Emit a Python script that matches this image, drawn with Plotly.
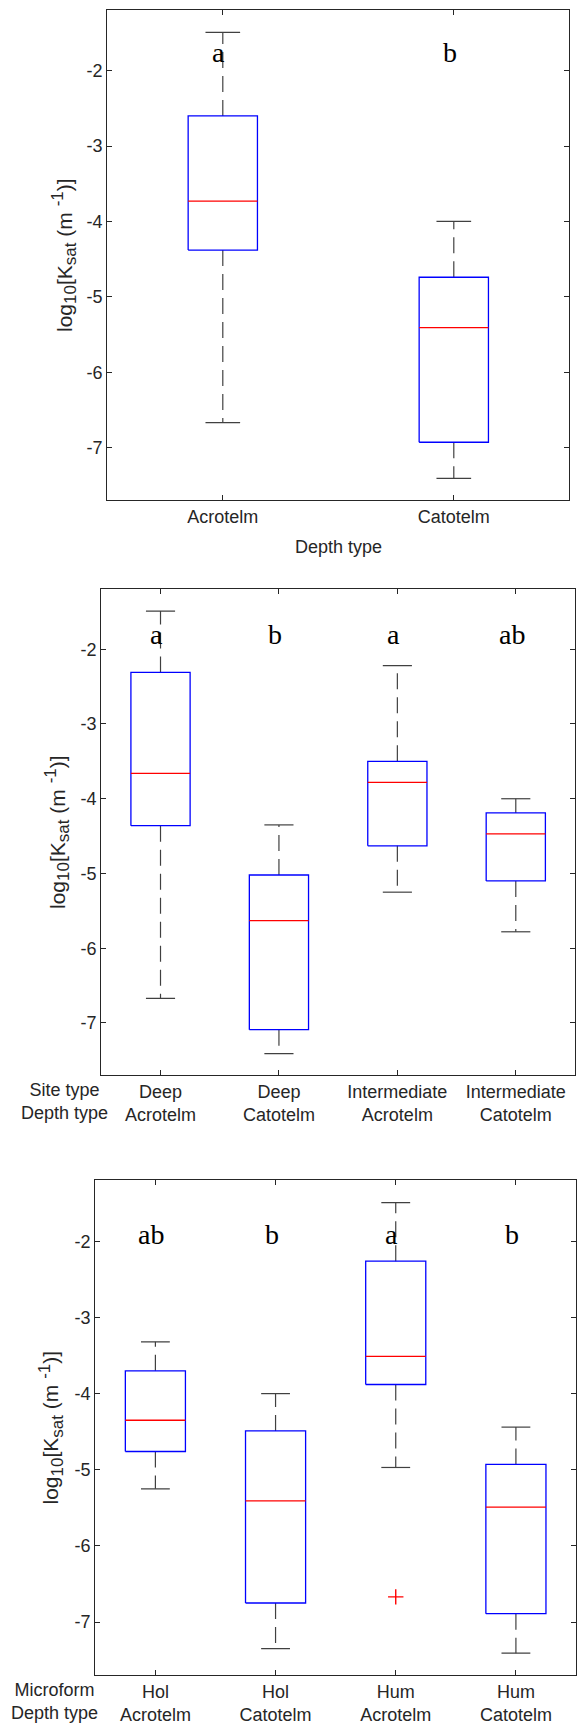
import plotly.graph_objects as go

FIG_W, FIG_H = 579, 1726

# ---- Panel 1: depth type ----
depth_labels = ["Acrotelm", "Catotelm"]
depth_upper = [-1.49, -4.00]
depth_q3 = [-2.60, -4.74]
depth_median = [-3.73, -5.41]
depth_q1 = [-4.38, -6.93]
depth_lower = [-6.67, -7.41]
depth_letters = ["a", "b"]

# ---- Panel 2: site type x depth type ----
site_labels = ["Deep<br>Acrotelm", "Deep<br>Catotelm",
               "Intermediate<br>Acrotelm", "Intermediate<br>Catotelm"]
site_upper = [-1.49, -4.35, -2.22, -4.00]
site_q3 = [-2.31, -5.02, -3.50, -4.19]
site_median = [-3.66, -5.63, -3.78, -4.47]
site_q1 = [-4.36, -7.09, -4.63, -5.10]
site_lower = [-6.67, -7.41, -5.25, -5.78]
site_letters = ["a", "b", "a", "ab"]

# ---- Panel 3: microform x depth type ----
micro_labels = ["Hol<br>Acrotelm", "Hol<br>Catotelm",
                "Hum<br>Acrotelm", "Hum<br>Catotelm"]
micro_upper = [-3.32, -4.00, -1.49, -4.44]
micro_q3 = [-3.70, -4.49, -2.26, -4.93]
micro_median = [-4.35, -5.41, -3.51, -5.49]
micro_q1 = [-4.76, -6.75, -3.88, -6.89]
micro_lower = [-5.25, -7.35, -4.97, -7.41]
micro_outlier_group = [3]
micro_outlier_value = [-6.67]
micro_letters = ["ab", "b", "a", "b"]

y_tick_vals = [-7, -6, -5, -4, -3, -2]
y_tick_text = ["-7", "-6", "-5", "-4", "-3", "-2"]

AX = "#262626"
BOX = "#0000ff"
MED = "#ff0000"
WHISK = "#404040"
SANS = "Liberation Sans, Arial, sans-serif"
SERIF = "Liberation Serif, Times New Roman, serif"
FS = 18
Y_RANGE = [-7.70, -1.19]

SUB = '<span style="font-size:17px">'
YTITLE = (f"log<sub>{SUB}10</span></sub>[K<sub>{SUB}sat</span></sub> "
          f"(m <sup>{SUB}-1</span></sup>)]")

# pixel frames of each panel: left, right, top, bottom
panels = [
    dict(labels=depth_labels, upper=depth_upper, q3=depth_q3, med=depth_median,
         q1=depth_q1, lower=depth_lower, letters=depth_letters,
         frame=(107.3, 569.3, 9.7, 500.3), half_box=0.15, half_cap=0.075,
         letter_y=-1.90, ytitle_x=64, row_title=None, xtitle="Depth type"),
    dict(labels=site_labels, upper=site_upper, q3=site_q3, med=site_median,
         q1=site_q1, lower=site_lower, letters=site_letters,
         frame=(101.3, 575.0, 588.7, 1075.3), half_box=0.25, half_cap=0.123,
         letter_y=-1.94, ytitle_x=57, row_title="Site type<br>Depth type",
         row_x=64.7, xtitle=None),
    dict(labels=micro_labels, upper=micro_upper, q3=micro_q3, med=micro_median,
         q1=micro_q1, lower=micro_lower, letters=micro_letters,
         frame=(95.3, 576.0, 1179.7, 1675.3), half_box=0.25, half_cap=0.12,
         letter_y=-2.045, ytitle_x=50, row_title="Microform<br>Depth type",
         row_x=54.6, xtitle=None,
         out_x=micro_outlier_group, out_y=micro_outlier_value),
]

fig = go.Figure()
annotations = []

for i, p in enumerate(panels, start=1):
    xa = "x" if i == 1 else f"x{i}"
    ya = "y" if i == 1 else f"y{i}"
    n = len(p["labels"])
    pos = list(range(1, n + 1))
    hb, hc = p["half_box"], p["half_cap"]

    wx, wy, cx, cy, bx, by, mx, my = [], [], [], [], [], [], [], []
    for k, xc in enumerate(pos):
        # whiskers
        wx += [xc, xc, None, xc, xc, None]
        wy += [p["q3"][k], p["upper"][k], None, p["q1"][k], p["lower"][k], None]
        # whisker caps
        cx += [xc - hc, xc + hc, None, xc - hc, xc + hc, None]
        cy += [p["upper"][k], p["upper"][k], None, p["lower"][k], p["lower"][k], None]
        # box
        bx += [xc - hb, xc + hb, xc + hb, xc - hb, xc - hb, None]
        by += [p["q1"][k], p["q1"][k], p["q3"][k], p["q3"][k], p["q1"][k], None]
        # median
        mx += [xc - hb, xc + hb, None]
        my += [p["med"][k], p["med"][k], None]

    common = dict(xaxis=xa, yaxis=ya, mode="lines", showlegend=False, hoverinfo="skip")
    fig.add_trace(go.Scatter(x=wx, y=wy, line=dict(color=WHISK, width=1.2, dash="16px,8px"), **common))
    fig.add_trace(go.Scatter(x=cx, y=cy, line=dict(color=WHISK, width=1.2), **common))
    fig.add_trace(go.Scatter(x=bx, y=by, line=dict(color=BOX, width=1.3), **common))
    fig.add_trace(go.Scatter(x=mx, y=my, line=dict(color=MED, width=1.3), **common))
    if "out_x" in p:
        fig.add_trace(go.Scatter(x=p["out_x"], y=p["out_y"], xaxis=xa, yaxis=ya,
                                 mode="markers", showlegend=False, hoverinfo="skip",
                                 marker=dict(symbol="cross-thin", size=11,
                                             line=dict(color=MED, width=1.4))))

    left, right, top, bottom = p["frame"]
    xdom = [left / FIG_W, right / FIG_W]
    ydom = [1 - bottom / FIG_H, 1 - top / FIG_H]

    axis_style = dict(showline=True, linecolor=AX, linewidth=1.2, mirror="allticks",
                      ticks="inside", ticklen=5, tickwidth=1.1, tickcolor=AX,
                      showgrid=False, zeroline=False,
                      tickfont=dict(family=SANS, size=FS, color=AX))
    fig.layout[f"xaxis{'' if i == 1 else i}"] = dict(
        domain=xdom, anchor=ya, range=[0.5, n + 0.5],
        tickvals=pos, ticktext=p["labels"], **axis_style)
    fig.layout[f"yaxis{'' if i == 1 else i}"] = dict(
        domain=ydom, anchor=xa, range=Y_RANGE,
        tickvals=y_tick_vals, ticktext=y_tick_text, **axis_style)

    # significance letters
    for k, xc in enumerate(pos):
        annotations.append(dict(x=xc, y=p["letter_y"], xref=xa, yref=ya,
                                text=p["letters"][k], showarrow=False,
                                yanchor="bottom", yshift=-7, xshift=-4,
                                font=dict(family=SERIF, size=28, color="#000000")))

    # y-axis title
    annotations.append(dict(x=p["ytitle_x"] / FIG_W, y=(ydom[0] + ydom[1]) / 2,
                            xref="paper", yref="paper", text=YTITLE, textangle=-90,
                            showarrow=False, xanchor="center", yanchor="middle",
                            font=dict(family=SANS, size=21, color=AX)))

    if p["xtitle"]:
        annotations.append(dict(x=(xdom[0] + xdom[1]) / 2, y=1 - 546.6 / FIG_H,
                                xref="paper", yref="paper", text=p["xtitle"],
                                showarrow=False, xanchor="center", yanchor="middle",
                                font=dict(family=SANS, size=FS, color=AX)))
    if p["row_title"]:
        annotations.append(dict(x=p["row_x"] / FIG_W, y=1 - (bottom + 26) / FIG_H,
                                xref="paper", yref="paper", text=p["row_title"],
                                showarrow=False, xanchor="center", yanchor="middle",
                                font=dict(family=SANS, size=FS, color=AX)))

fig.update_layout(width=FIG_W, height=FIG_H, margin=dict(l=0, r=0, t=0, b=0),
                  paper_bgcolor="white", plot_bgcolor="white",
                  annotations=annotations, showlegend=False)

fig.write_html("out.html")
